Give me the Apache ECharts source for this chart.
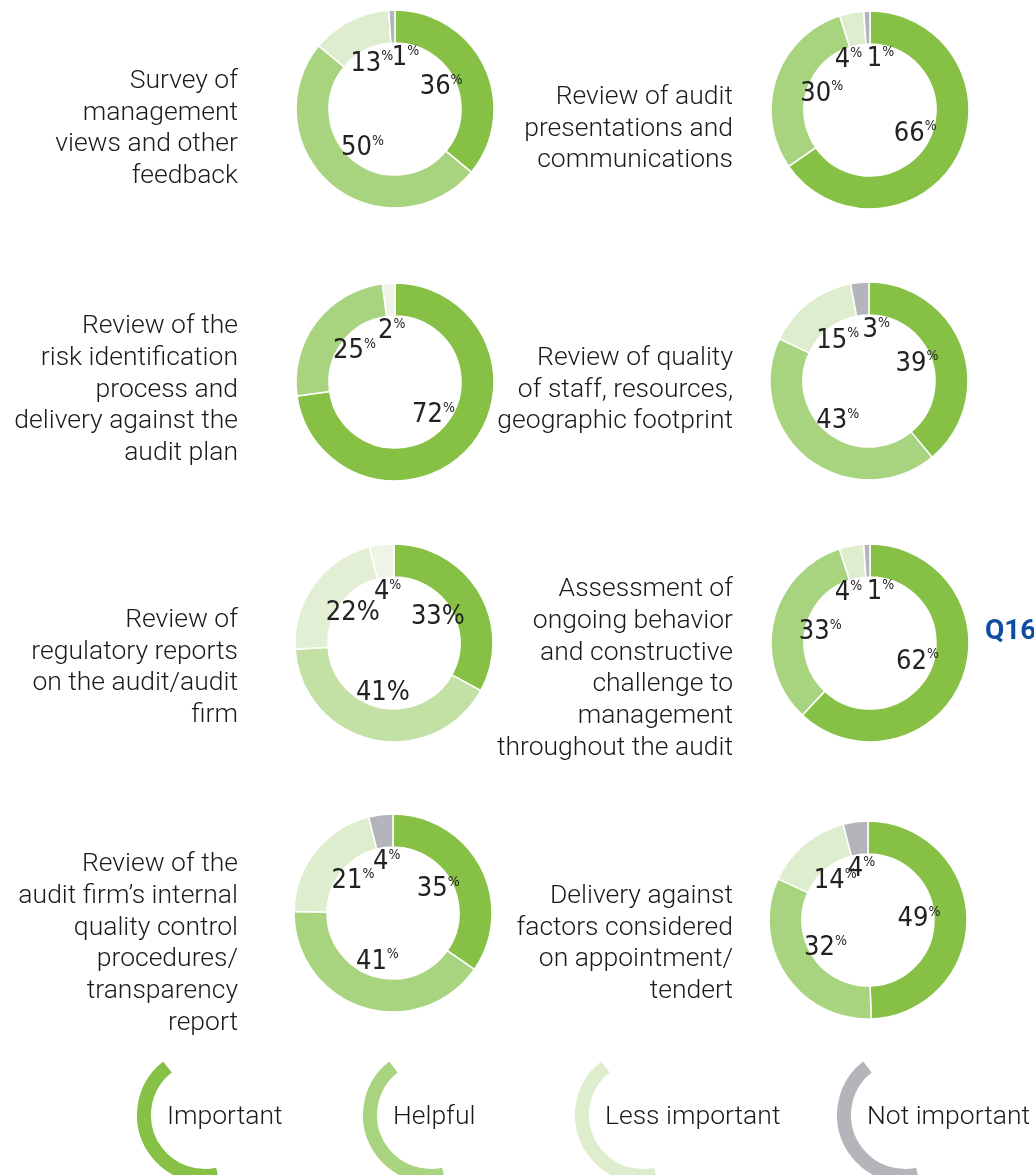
<!DOCTYPE html>
<html>
<head>
<meta charset="utf-8">
<script src="https://cdn.jsdelivr.net/npm/echarts@6/dist/echarts.min.js"></script>
<style>
  html, body { margin: 0; padding: 0; background: #fff; }
  #chart { width: 1034px; height: 1175px; }
</style>
</head>
<body>
<div id="chart"></div>
<script>
// answer categories, clockwise from 12 o'clock
const categories = ['Important', 'Helpful', 'Less important', 'Not important']

const topics = [
  'Survey of\nmanagement\nviews and other\nfeedback',
  'Review of audit\npresentations and\ncommunications',
  'Review of the\nrisk identification\nprocess and\ndelivery against the\naudit plan',
  'Review of quality\nof staff, resources,\ngeographic footprint',
  'Review of\nregulatory reports\non the audit/audit\nfirm',
  'Assessment of\nongoing behavior\nand constructive\nchallenge to\nmanagement\nthroughout the audit',
  'Review of the\naudit firm\u2019s internal\nquality control\nprocedures/\ntransparency\nreport',
  'Delivery against\nfactors considered\non appointment/\ntendert',
]

const important = [36, 66, 72, 39, 33, 62, 35, 49]
const helpful = [50, 30, 25, 43, 41, 33, 41, 32]
const lessImportant = [13, 4, 2, 15, 22, 4, 21, 14]
const notImportant = [1, 1, 0, 3, 4, 1, 4, 4]

// layout
const centers = [[395, 109], [870, 110], [395, 382], [869, 381], [394, 643], [870, 643], [393, 913], [868, 920]]
const textAnchors = [[238, 129], [733, 129], [238, 390], [733, 390], [238, 668], [733, 669], [238, 944], [733, 944]]
const legendPos = [[205, 1115], [431, 1115], [643, 1115], [905, 1115]]

const palette = ['#86c145', '#a9d47f', '#deedcd', '#b3b5bb']
const paletteOverride = {
  2: ['#86c145', '#a9d47f', '#eef5e7', '#b3b5bb'],
  4: ['#86c145', '#c3e1a5', '#e2efd5', '#eef5e7'],
}
const fullPercent = { 4: true }

const textFont = 'Roboto, "Open Sans", sans-serif'
const numFont = '"Liberation Sans Narrow", "DejaVu Sans Condensed", Roboto, sans-serif'

const chart = echarts.init(document.getElementById('chart'))

function donutData(i) {
  const colors = paletteOverride[i] || palette
  const vals = [important[i], helpful[i], lessImportant[i], notImportant[i]]
  return vals
    .map((v, k) => ({ name: categories[k], value: v, itemStyle: { color: colors[k] } }))
    .filter((d) => d.value > 0)
}

// tiny slices near 12 o'clock would stack their labels; spread them sideways
function spreadSmall(i, d) {
  if (!notImportant[i]) return 0
  if (d.name === 'Not important' && d.value <= 3) return 12
  if (d.name === 'Less important' && d.value <= 5) return -12
  return 0
}

const series = []
const graphic = []

topics.forEach((topic, i) => {
  const data = donutData(i)
  series.push({
    type: 'pie',
    center: centers[i],
    radius: [66, 99],
    startAngle: 90,
    silent: true,
    label: { show: false },
    labelLine: { show: false },
    itemStyle: { borderColor: '#fff', borderWidth: 1.5 },
    data,
  })
  // invisible pie only used to put the value labels inside the hole
  series.push({
    type: 'pie',
    center: centers[i],
    radius: [0, 96],
    startAngle: 90,
    silent: true,
    z: 5,
    itemStyle: { color: 'transparent' },
    labelLine: { show: false },
    label: {
      show: true,
      position: 'inside',
      formatter: (p) => (fullPercent[i] && p.value > 9 ? `{n|${p.value}}{q|%}` : `{n|${p.value}}{p|%}`),
      rich: {
        n: { fontFamily: numFont, fontSize: 27, color: '#222', lineHeight: 28 },
        q: { fontFamily: numFont, fontSize: 27, color: '#222', lineHeight: 28 },
        p: { fontFamily: numFont, fontSize: 14, color: '#222', lineHeight: 14, verticalAlign: 'top' },
      },
    },
    labelLayout: (params) => ({ dx: spreadSmall(i, data[params.dataIndex]) }),
    data: data.map((d) => ({ name: d.name, value: d.value, itemStyle: { color: 'transparent' } })),
  })
  graphic.push({
    type: 'text',
    x: textAnchors[i][0],
    y: textAnchors[i][1],
    style: {
      text: topic,
      align: 'right',
      verticalAlign: 'middle',
      fontFamily: textFont,
      fontWeight: 300,
      fontSize: 26.5,
      lineHeight: 31.7,
      fill: '#1a1a1a',
    },
  })
})

// legend: open arcs with the category name
categories.forEach((name, k) => {
  const [cx, cy] = legendPos[k]
  graphic.push({
    type: 'arc',
    shape: { cx, cy, r: 61, startAngle: (232 * Math.PI) / 180, endAngle: (78 * Math.PI) / 180, clockwise: false },
    style: { stroke: palette[k], lineWidth: 14, fill: null, lineCap: 'butt' },
  })
  graphic.push({
    type: 'text',
    x: cx - 38,
    y: cy + 2,
    style: {
      text: name,
      verticalAlign: 'middle',
      fontFamily: textFont,
      fontWeight: 300,
      fontSize: 26.5,
      fill: '#1a1a1a',
    },
  })
})

graphic.push({
  type: 'text',
  x: 985,
  y: 632,
  style: {
    text: 'Q16',
    verticalAlign: 'middle',
    fontFamily: 'Roboto, sans-serif',
    fontWeight: 'bold',
    fontSize: 28,
    fill: '#0d4ea0',
  },
})

chart.setOption({
  animation: false,
  series,
  graphic,
})

window.addEventListener('resize', () => chart.resize())
</script>
</body>
</html>
